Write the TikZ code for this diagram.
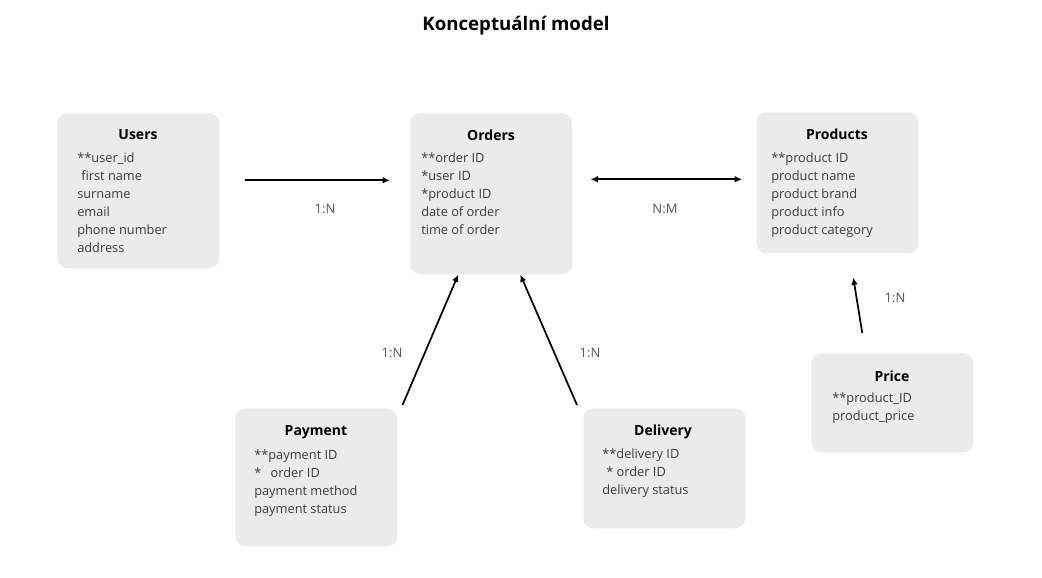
\documentclass[tikz,border=0pt]{standalone}
\usepackage{fontspec}
\setmainfont{Open Sans}
\usetikzlibrary{arrows.meta}

\definecolor{boxgray}{RGB}{235,235,235}
\definecolor{bodytext}{RGB}{60,60,60}
\definecolor{labeltext}{RGB}{85,85,85}

\begin{document}
\begin{tikzpicture}[x=0.75pt,y=-0.75pt,
    entity/.style={fill=boxgray,draw=none,rounded corners=7.5pt,inner sep=0pt,anchor=north west,minimum width=121.5pt},
    entname/.style={font=\fontsize{10.5}{12}\selectfont\bfseries},
    attrs/.style={anchor=north west,align=left,inner sep=0pt,text=bodytext,font=\fontsize{9.6}{13.5}\selectfont},
    card/.style={text=labeltext,font=\fontsize{9.8}{12}\selectfont},
    rel/.style={line width=1.3pt,-{Latex[length=5.5pt,width=5pt]}},
    relboth/.style={line width=1.3pt,{Latex[length=5.5pt,width=5pt]}-{Latex[length=5.5pt,width=5pt]}}
]
    \useasboundingbox (0,0) rectangle (1042,578);

    \node[font=\fontsize{14}{16}\selectfont\bfseries] (title) at (516,26) {Konceptuální model};

    % entities
    \node[entity,minimum height=116.25pt] (users) at (57,113) {};
    \node[entname] (usersT) at (138,135) {Users};
    \node[attrs] (usersA) at (77,153) {**user\_id\\\hspace{3pt}first name\\surname\\email\\phone number\\address};

    \node[entity,minimum height=120.75pt] (orders) at (410,113) {};
    \node[entname] (ordersT) at (491,135) {Orders};
    \node[attrs] (ordersA) at (421,153) {**order ID\\*user ID\\*product ID\\date of order\\time of order};

    \node[entity,minimum height=105.75pt] (products) at (756,112) {};
    \node[entname] (productsT) at (837,134) {Products};
    \node[attrs] (productsA) at (771,153) {**product ID\\product name\\product brand\\product info\\product category};

    \node[entity,minimum height=103.5pt] (payment) at (235,408) {};
    \node[entname] (paymentT) at (316,432) {Payment};
    \node[attrs] (paymentA) at (254,450) {**payment ID\\*\hspace{7pt}order ID\\payment method\\payment status};

    \node[entity,minimum height=90pt] (delivery) at (583,408) {};
    \node[entname] (deliveryT) at (663,432) {Delivery};
    \node[attrs] (deliveryA) at (602,449) {**delivery ID\\\hspace{3pt}* order ID\\delivery status};

    \node[entity,minimum height=74.25pt] (price) at (811,353) {};
    \node[entname] (priceT) at (892,376) {Price};
    \node[attrs] (priceA) at (832,393) {**product\_ID\\product\_price};

    % relations
    \draw[rel] ([xshift=18.75pt,yshift=7.875pt]users.east) -- ([xshift=-15pt,yshift=10.125pt]orders.west);
    \draw[relboth] ([xshift=13.5pt,yshift=10.875pt]orders.east) -- ([xshift=-10.5pt,yshift=2.625pt]products.west);
    \draw[rel] ([xshift=3.75pt,yshift=2.25pt]payment.north east) -- ([xshift=-24.75pt]orders.south);
    \draw[rel] ([xshift=-4.5pt,yshift=2.25pt]delivery.north west) -- ([xshift=21.75pt]orders.south);
    \draw[rel] ([xshift=-22.5pt,yshift=15pt]price.north) -- ([xshift=12pt,yshift=-18pt]products.south);

    % cardinalities
    \node[card] (uoCard) at (325,209) {1:N};
    \node[card] (opCard) at (665,209) {N:M};
    \node[card] (poCard) at (392,353) {1:N};
    \node[card] (doCard) at (590,353) {1:N};
    \node[card] (ppCard) at (895,298) {1:N};
\end{tikzpicture}
\end{document}
